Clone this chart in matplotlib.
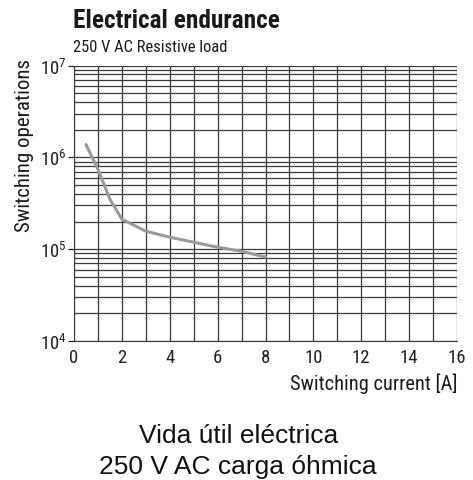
import numpy as np
import matplotlib
matplotlib.use("Agg")
import matplotlib.pyplot as plt
from matplotlib import font_manager
from matplotlib.ticker import LogLocator, MultipleLocator, FixedLocator

# pick a narrow font if there is one
names = {f.name for f in font_manager.fontManager.ttflist}
narrow = 'Roboto'
for cand in ['Roboto Condensed', 'DejaVu Sans Condensed', 'Liberation Sans Narrow', 'Open Sans Condensed']:
    if cand in names:
        narrow = cand
        break
plt.rcParams['font.family'] = [narrow, 'DejaVu Sans']
plt.rcParams['mathtext.fontset'] = 'custom'
plt.rcParams['mathtext.rm'] = narrow
plt.rcParams['mathtext.it'] = narrow

# curve
current = [0.5, 1.0, 1.5, 2.0, 3.0, 4.0, 5.0, 6.0, 7.0, 8.0]
operations = [1.38e6, 7.4e5, 3.5e5, 2.12e5, 1.57e5, 1.35e5, 1.19e5, 1.05e5, 9.5e4, 8.2e4]

x_ticks = [0, 2, 4, 6, 8, 10, 12, 14, 16]

fig = plt.figure(figsize=(4.73, 4.81), dpi=100)
ax = fig.add_axes([74/473, 1-342/481, (457-74)/473, (342-66.5)/481])

ax.plot(current, operations, color='#9a9a9a', lw=2.2, solid_capstyle='round', zorder=3)

ax.set_yscale('log')
ax.set_xlim(0, 16)
ax.set_ylim(1e4, 1e7)
ax.xaxis.set_major_locator(FixedLocator(x_ticks))
ax.xaxis.set_minor_locator(MultipleLocator(1))
ax.yaxis.set_major_locator(LogLocator(base=10))
ax.yaxis.set_minor_locator(LogLocator(base=10, subs=np.arange(2, 10)))
ax.yaxis.set_minor_formatter(plt.NullFormatter())

ax.grid(which='both', color='#3a3a3a', lw=0.9)
for s in ax.spines.values():
    s.set_visible(False)
ax.spines['left'].set_visible(True)
ax.spines['bottom'].set_visible(True)
ax.spines['left'].set_color('#3a3a3a')
ax.spines['bottom'].set_color('#3a3a3a')

ax.tick_params(axis='x', which='both', length=0, pad=5, labelsize=13.5, colors='#222')
ax.tick_params(axis='y', which='major', length=4, width=0.9, pad=1, labelsize=13.5, colors='#222')
ax.tick_params(axis='y', which='minor', length=0)

title = fig.text(73/473, 1-28/481, 'Electrical endurance', fontsize=17, fontweight='bold', color='#1a1a1a')
sub = fig.text(73/473, 1-52/481, '250 V AC Resistive load', fontsize=12, color='#1a1a1a')
ylab = fig.text(25/473, 1-146/481, 'Switching operations', fontsize=13, rotation=90,
                ha='center', va='center', color='#1a1a1a')
xlab = fig.text(457/473, 1-390/481, 'Switching current [A]', fontsize=13, ha='right', color='#1a1a1a')

cap1 = fig.text(239/473, 1-443/481, 'Vida útil eléctrica', fontsize=16, ha='center',
                family=['Liberation Sans', 'DejaVu Sans'], color='#111')
cap2 = fig.text(238/473, 1-474/481, '250 V AC carga óhmica', fontsize=16, ha='center',
                family=['Liberation Sans', 'DejaVu Sans'], color='#111')

# fit text lengths to the reference (pixels)
fig.canvas.draw()
r = fig.canvas.get_renderer()
for t, target, vert in [(title, 207, False), (sub, 154, False), (ylab, 172, True),
                        (xlab, 166, False), (cap1, 200, False)]:
    bb = t.get_window_extent(r)
    w = bb.height if vert else bb.width
    t.set_fontsize(t.get_fontsize() * target / w)
cap2.set_fontsize(cap1.get_fontsize())

fig.savefig('out.png', dpi=100)
